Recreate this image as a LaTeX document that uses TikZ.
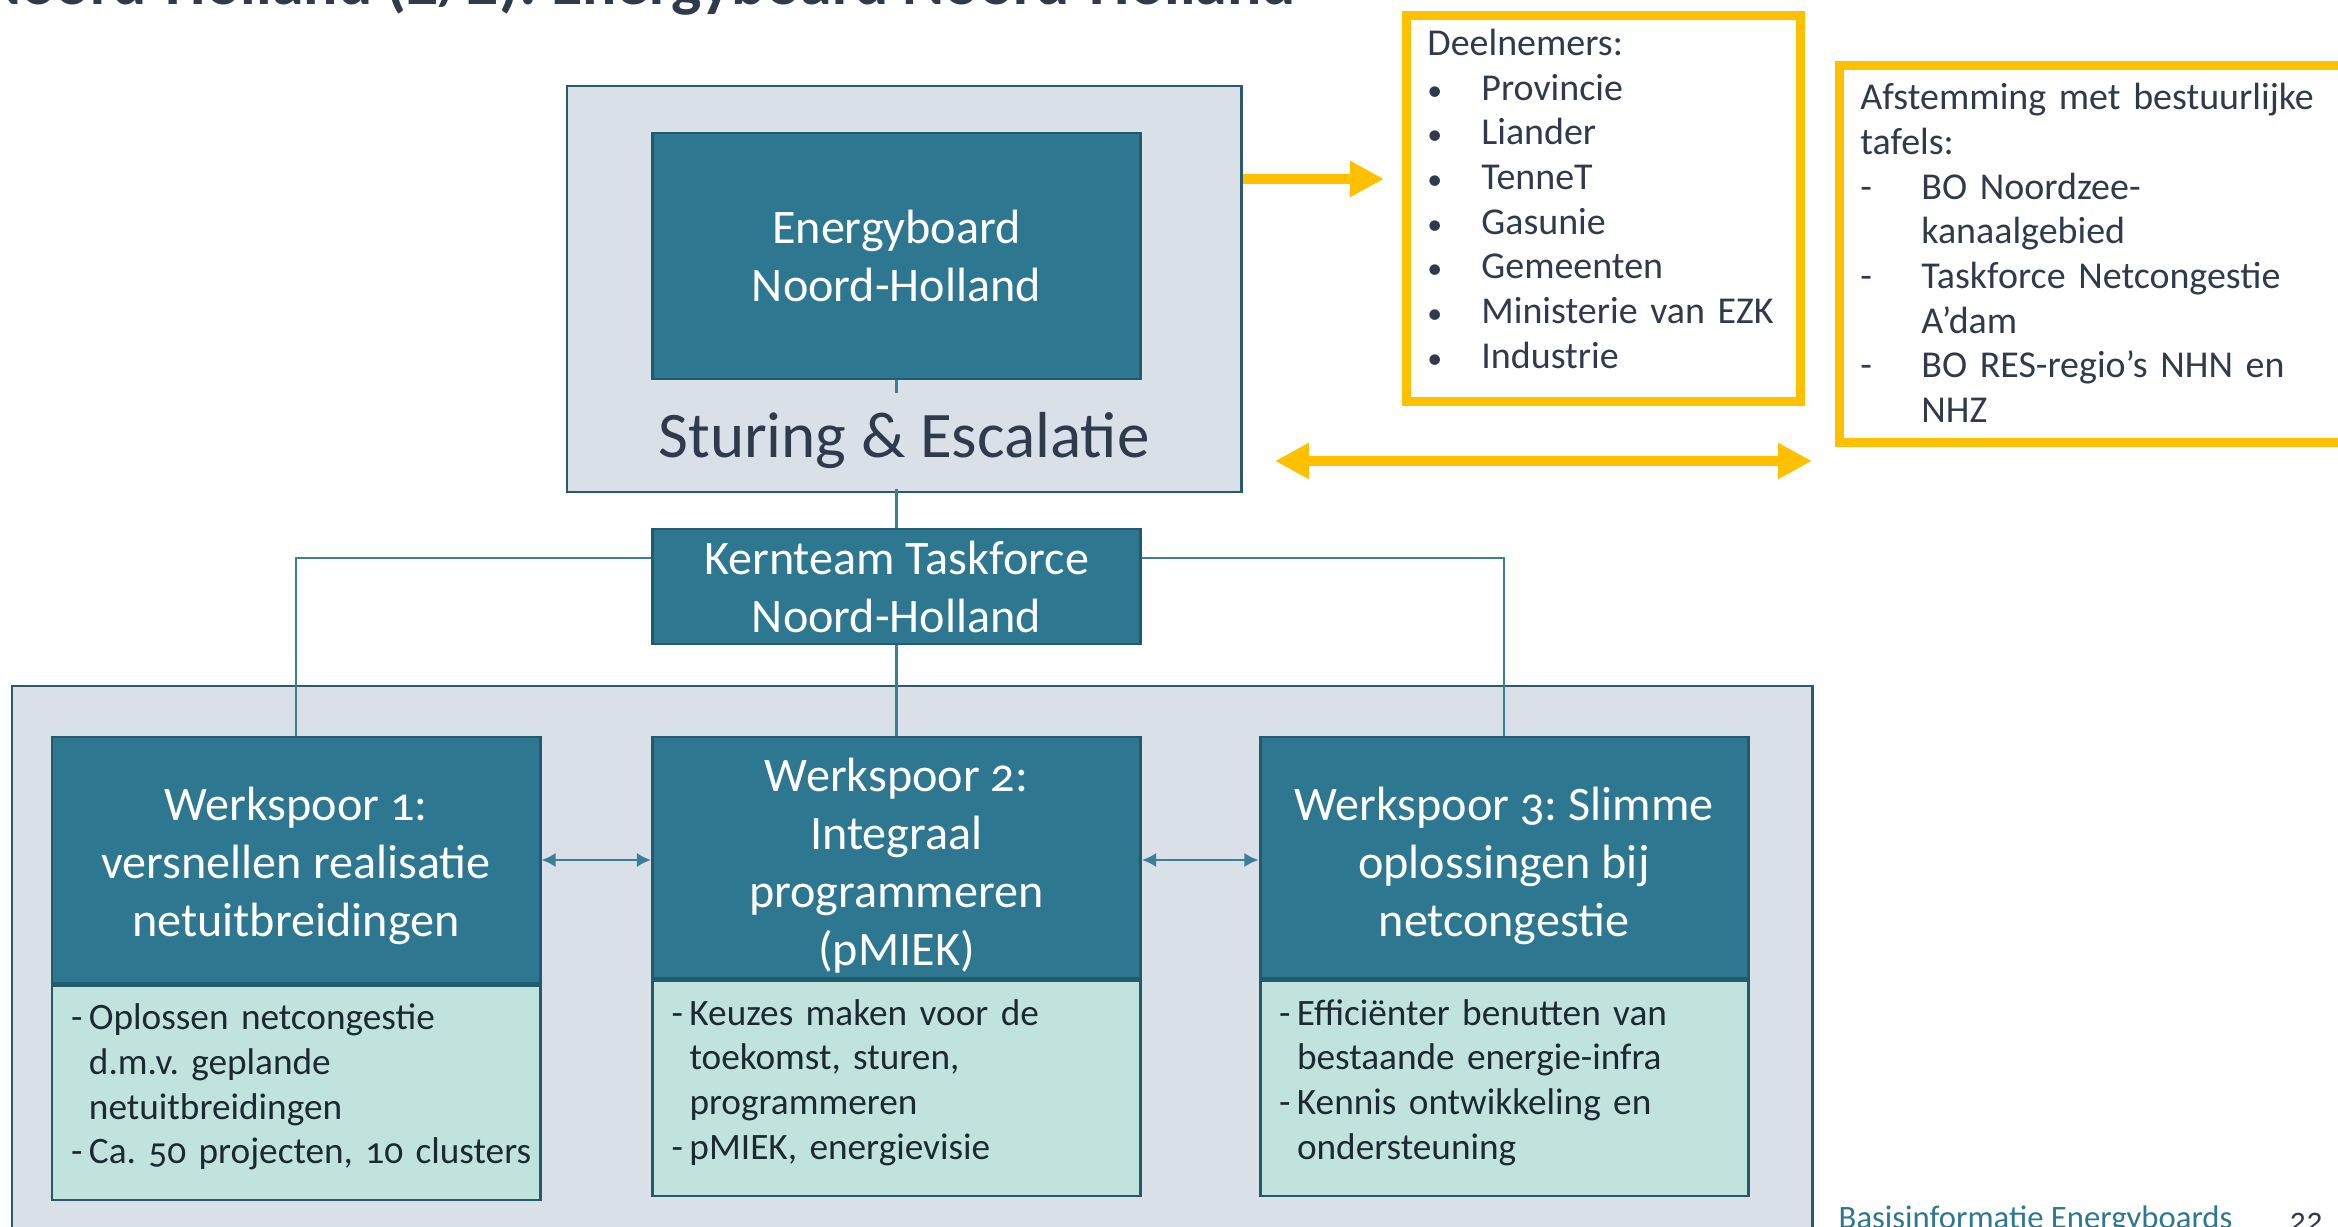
\documentclass[tikz,border=0pt]{standalone}
\usepackage{fontspec}
\setmainfont{Carlito}[Numbers=OldStyle]
\usetikzlibrary{arrows.meta}
\frenchspacing

\definecolor{tealbox}{HTML}{2E7790}
\definecolor{tealline}{HTML}{245A6E}
\definecolor{panelfill}{HTML}{DAE0E8}
\definecolor{panelline}{HTML}{2C5A6D}
\definecolor{mintbox}{HTML}{C0E3DD}
\definecolor{yell}{HTML}{FFC000}
\definecolor{slate}{HTML}{2F3B4C}
\definecolor{inktext}{HTML}{1E2833}
\definecolor{linkteal}{HTML}{3A7F97}

\newcommand{\wsdash}{\makebox[0.18cm][l]{-}}
\newcommand{\wsgap}{\hspace*{0.18cm}}
\newcommand{\dlbul}{\makebox[0.54cm][l]{\fontsize{8.5}{8.5}\selectfont\textbullet}}
\newcommand{\tfdash}{\makebox[0.61cm][l]{-}}
\newcommand{\tfgap}{\hspace*{0.61cm}}

\tikzset{
  panel/.style={draw=panelline, line width=0.85pt, fill=panelfill, inner sep=0pt},
  head/.style={draw=tealline, line width=0.85pt, fill=tealbox, text=white,
    font=\fontsize{13.7}{16.5}\selectfont, align=center, inner sep=0pt,
    minimum width=4.88cm},
  headtext/.style={text=white, font=\fontsize{13.7}{16.5}\selectfont,
    align=center, inner sep=0pt},
  bodybox/.style={draw=tealline, line width=0.85pt, fill=mintbox, inner sep=0pt,
    minimum width=4.88cm},
  bodytext/.style={text=inktext, font=\fontsize{10.6}{12.7}\selectfont,
    align=left, text width=4.5cm, inner sep=0pt},
  note/.style={draw=yell, line width=2.5pt, inner sep=0pt},
  notetext/.style={text=slate, align=left, font=\fontsize{10.8}{12.7}\selectfont,
    inner sep=0pt},
  link/.style={draw=linkteal, line width=0.6pt},
  yarrow/.style={draw=yell, line width=2.8pt, -{Triangle[width=9.7pt,length=9.7pt]}}
}

\begin{document}
\begin{tikzpicture}[x=1cm,y=-1cm]
\useasboundingbox (0,0) rectangle (23.38,12.27);
% title, cut off by the page
\node[anchor=base east, text=slate, font=\fontsize{18.2}{21}\selectfont\bfseries] (title) at (13.08,0.05) {Noord-Holland (2/2): Energyboard Noord-Holland};
% panels
\node[panel, minimum width=6.74cm, minimum height=4.06cm] (sturing) at (9.04,2.89) {};
\node[panel, minimum width=18.0cm, minimum height=5.64cm] (werkveld) at (9.12,9.68) {};
\node[head, minimum height=2.46cm] (energy) at (8.965,2.56) {Energyboard\\Noord-Holland};
\node[text=slate, font=\fontsize{18.5}{22}\selectfont, minimum height=0.94cm, inner sep=0pt] (esc) at (9.04,4.41) {Sturing \& Escalatie};
\node[head, minimum height=1.15cm] (kern) at (8.965,5.865) {Kernteam Taskforce\\Noord-Holland};
% werksporen
\node[head, minimum height=2.46cm] (ws1) at (2.96,8.60) {};
\node[head, minimum height=2.41cm] (ws2) at (8.965,8.575) {};
\node[head, minimum height=2.41cm] (ws3) at (15.04,8.575) {};
\node[headtext] (ws1lbl) at ([yshift=-0.06cm]ws1.center) {Werkspoor 1:\\versnellen realisatie\\netuitbreidingen};
\node[headtext] (ws2lbl) at ([yshift=-0.08cm]ws2.center) {Werkspoor 2:\\Integraal\\programmeren\\(pMIEK)};
\node[headtext] (ws3lbl) at ([yshift=-0.08cm]ws3.center) {Werkspoor 3: Slimme\\oplossingen bij\\netcongestie};
\node[bodybox, anchor=north, minimum height=2.14cm] (ws1b) at (ws1.south) {};
\node[bodybox, anchor=north, minimum height=2.15cm] (ws2b) at (ws2.south) {};
\node[bodybox, anchor=north, minimum height=2.15cm] (ws3b) at (ws3.south) {};
\node[bodytext] (ws1txt) at ([yshift=0.06cm]ws1b.center) {\wsdash Oplossen netcongestie\\\wsgap d.m.v. geplande\\\wsgap netuitbreidingen\\\mbox{\wsdash Ca. 50 projecten, 10 clusters}};
\node[bodytext] (ws2txt) at ([yshift=0.06cm]ws2b.center) {\wsdash Keuzes maken voor de\\\wsgap toekomst, sturen,\\\wsgap programmeren\\\wsdash pMIEK, energievisie};
\node[bodytext] (ws3txt) at ([yshift=0.06cm]ws3b.center) {\mbox{\wsdash Efficiënter benutten van}\\\mbox{\wsgap bestaande energie-infra}\\\wsdash Kennis ontwikkeling en\\\wsgap ondersteuning};
% lines
\draw[link] (energy.south) -- (energy.south |- esc.north);
\draw[link] (kern.north |- esc.south) -- (kern.north);
\draw[link] ([yshift=0.285cm]kern.west) -| (ws1.north);
\draw[link] ([yshift=0.285cm]kern.east) -| (ws3.north);
\draw[link] (kern.south) -- (ws2.north);
\draw[link, {Latex[length=4pt,width=4pt]}-{Latex[length=4pt,width=4pt]}] (ws1.east) -- (ws1.east -| ws2.west);
\draw[link, {Latex[length=4pt,width=4pt]}-{Latex[length=4pt,width=4pt]}] (ws2.east |- ws1.east) -- (ws3.west |- ws1.east);
% side notes
\node[note, anchor=north west, minimum width=3.94cm, minimum height=3.86cm] (deeln) at (14.02,0.11) {};
\node[notetext, text width=3.52cm] (deelntxt) at ([yshift=0.095cm]deeln.center) {Deelnemers:\\\dlbul Provincie\\\dlbul Liander\\\dlbul TenneT\\\dlbul Gasunie\\\dlbul Gemeenten\\\dlbul Ministerie van EZK\\\dlbul Industrie};
\node[note, anchor=north west, minimum width=5.12cm, minimum height=3.77cm] (tafels) at (18.35,0.61) {};
\node[notetext, text width=4.7cm] (tafeltxt) at ([yshift=0.01cm]tafels.center) {Afstemming met bestuurlijke\\tafels:\\\tfdash BO Noordzee-\\\tfgap kanaalgebied\\\tfdash Taskforce Netcongestie\\\tfgap A’dam\\\tfdash BO RES-regio’s NHN en\\\tfgap NHZ};
\coordinate (deeltip) at (13.84,1.79);
\draw[yarrow] (sturing.east |- deeltip) -- (deeltip);
\coordinate (tafelL) at (12.75,4.61);
\coordinate (tafelR) at (18.12,4.61);
\draw[yarrow, {Triangle[width=9.7pt,length=9.7pt]}-{Triangle[width=9.7pt,length=9.7pt]}] (tafelL) -- (tafelR);
% footer
\node[anchor=base west, text=tealbox, font=\fontsize{9.3}{11}\selectfont, inner sep=0pt] (footer) at (18.38,12.28) {Basisinformatie Energyboards};
\node[anchor=base west, text=slate, font=\fontsize{9.3}{11}\selectfont, inner sep=0pt] (pagenr) at (22.89,12.30) {22};
\end{tikzpicture}
\end{document}
